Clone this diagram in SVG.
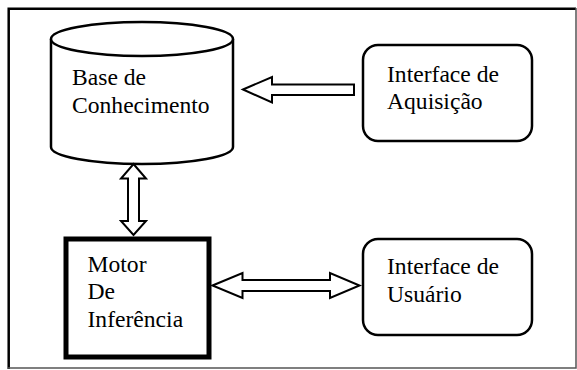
<svg xmlns="http://www.w3.org/2000/svg" width="577" height="370" viewBox="0 0 577 370">
<style>
.t{font-family:"Liberation Serif","Times New Roman",serif;font-size:23.6px;fill:#000}
.n{fill:#fff;stroke:#000;stroke-width:2.5}
.a{fill:#fff;stroke:#000;stroke-width:2;stroke-linejoin:miter}
</style>
<rect width="577" height="370" fill="#fff"/>
<g id="frame">
<path d="M8.7,369 V8.7 H576" fill="none" stroke="#000" stroke-width="2.5"/>
<path d="M576,8 V368 H8" fill="none" stroke="#555" stroke-width="1.5"/>
</g>
<g id="base-conhecimento">
<path class="n" d="M51,39 V147 A91,17 0 0 0 233,147 V39"/>
<ellipse class="n" cx="142" cy="39" rx="91" ry="17"/>
<text class="t" x="72" y="85">Base de</text>
<text class="t" x="72" y="112.5">Conhecimento</text>
</g>
<g id="interface-aquisicao">
<rect class="n" x="363" y="45" width="169" height="96" rx="15"/>
<text class="t" x="387" y="81.5">Interface de</text>
<text class="t" x="387" y="109">Aquisição</text>
</g>
<g id="motor-inferencia">
<rect x="66" y="239" width="143" height="118" fill="#fff" stroke="#000" stroke-width="5"/>
<text class="t" x="87.5" y="271.5">Motor</text>
<text class="t" x="87.5" y="299">De</text>
<text class="t" x="87.5" y="326.5">Inferência</text>
</g>
<g id="interface-usuario">
<rect class="n" x="363" y="239" width="169" height="96" rx="15"/>
<text class="t" x="387" y="274">Interface de</text>
<text class="t" x="387" y="301.5">Usuário</text>
</g>
<g id="connectors">
<polygon class="a" points="243,89.5 272,77 272,84.5 354,84.5 354,95 272,95 272,102.5"/>
<polygon class="a" points="133.5,164 146,178.5 139,178.5 139,221 146,221 133.5,235 121,221 128,221 128,178.5 121,178.5"/>
<polygon class="a" points="212.5,285.5 242.5,273 242.5,280 330,280 330,273 359.5,285.5 330,298 330,291 242.5,291 242.5,298"/>
</g>
</svg>
